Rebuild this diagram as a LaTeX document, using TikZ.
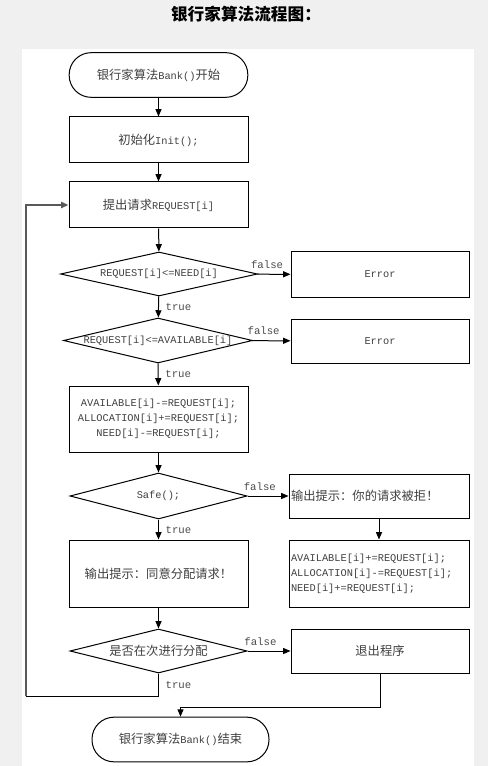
\documentclass[tikz,border=0pt]{standalone}
\usepackage{fontspec}
\setmainfont{Liberation Mono}
\newfontfamily\cjk{Noto Sans CJK SC}[Scale=1.19]
\usetikzlibrary{shapes.geometric,arrows.meta}

\tikzset{every picture/.style={line width=0.75pt}}
\tikzset{
  box/.style={draw, rectangle, minimum width=134.25pt, minimum height=34.5pt, inner sep=1pt, align=center, text=black!75},
  leftbox/.style={box, text width=132pt, align=left},
  term/.style={draw, rectangle, rounded corners=16.5pt, minimum width=134pt, minimum height=33.5pt, inner sep=1pt, text=black!75},
  decide/.style={draw, diamond, inner sep=0pt, text=black!75},
  flow/.style={-{Triangle[length=5.5pt,width=4.5pt]}},
  lbl/.style={font=\fontsize{8}{9}\selectfont, text=black!70, inner sep=1pt}
}
\newcommand{\zh}[1]{{\cjk #1}}
\newcommand{\nowidth}[1]{\makebox[0pt]{#1}}

\begin{document}
\begin{tikzpicture}[x=0.75pt,y=0.75pt,yscale=-1.0,xscale=1.0,font=\fontsize{7.75}{11.25}\selectfont]
    \useasboundingbox (0,0) rectangle (488,766);
    \fill [gray!12] (0,0) rectangle (488,766);
    \fill [white] (22,49) rectangle (474,766);
    
    % Title
    \node (title) at (246,14) {\cjk\fontsize{10.5}{12}\selectfont\bfseries 银行家算法流程图：};
    
    % Text Node
    \node [term] (start) at (158.5,75) {\zh{银行家算法}Bank()\zh{开始}};
    % Text Node
    \node [box] (init) at (158.5,140) {\zh{初始化}Init();};
    % Text Node
    \node [box] (request) at (158.5,205) {\zh{提出请求}REQUEST[i]};
    % Text Node
    \node [decide, minimum width=147.75pt, minimum height=33pt] (needchk) at (159,274) {\nowidth{REQUEST[i]<=NEED[i]}};
    % Text Node
    \node [box, minimum width=133.5pt, minimum height=33.75pt] (error1) at (380,274.5) {Error};
    % Text Node
    \node [decide, minimum width=141.75pt, minimum height=33.75pt] (availchk) at (158,340.5) {\nowidth{REQUEST[i]<=AVAILABLE[i]}};
    % Text Node
    \node [box, minimum width=133.5pt, minimum height=33pt] (error2) at (380,341) {Error};
    % Text Node
    \node [box, minimum height=49.5pt] (alloc) at (158.5,419) {AVAILABLE[i]-=REQUEST[i];\\ALLOCATION[i]+=REQUEST[i];\\NEED[i]-=REQUEST[i];};
    % Text Node
    \node [decide, minimum width=132.75pt, minimum height=34.5pt] (safe) at (158.5,496) {\nowidth{Safe();}};
    % Text Node
    \node [leftbox, minimum width=135pt, minimum height=33pt] (refuse) at (379,496) {\zh{输出提示：你的请求被拒！}};
    % Text Node
    \node [box, minimum height=50.25pt] (agree) at (158.5,573.5) {\zh{输出提示：同意分配请求！}};
    % Text Node
    \node [leftbox, minimum width=135pt, minimum height=50.25pt] (restore) at (379,573.5) {AVAILABLE[i]+=REQUEST[i];\\ALLOCATION[i]-=REQUEST[i];\\NEED[i]+=REQUEST[i];};
    % Text Node
    \node [decide, minimum width=132.75pt, minimum height=33pt] (again) at (158.5,651) {\nowidth{\zh{是否在次进行分配}}};
    % Text Node
    \node [box, minimum width=133.5pt, minimum height=33pt] (exit) at (380,651) {\zh{退出程序}};
    % Text Node
    \node [term, minimum width=132.75pt] (finish) at (180.5,739.5) {\zh{银行家算法}Bank()\zh{结束}};
    
    \coordinate (loop) at (26,696);
    
    % Connection
    \draw [flow] (start) -- (init);
    % Connection
    \draw [flow] (init) -- (request);
    % Connection
    \draw [flow] (request) -- (needchk);
    % Connection
    \draw [flow] (needchk) -- node [lbl, pos=0.3, above=3pt] {false} (error1);
    % Connection
    \draw [flow] (needchk) -- node [lbl, right=4pt] {true} (availchk);
    % Connection
    \draw [flow] (availchk) -- node [lbl, pos=0.3, above=3pt] {false} (error2);
    % Connection
    \draw [flow] (availchk) -- node [lbl, right=4pt] {true} (alloc);
    % Connection
    \draw [flow] (alloc) -- (safe);
    % Connection
    \draw [flow] (safe) -- node [lbl, pos=0.3, above=3pt] {false} (refuse);
    % Connection
    \draw [flow] (safe) -- node [lbl, right=4pt] {true} (agree);
    % Connection
    \draw [flow] (refuse) -- (restore);
    % Connection
    \draw [flow] (agree) -- (again);
    % Connection
    \draw [flow] (again) -- node [lbl, pos=0.3, above=3pt] {false} (exit);
    % Connection
    \draw (again.south) -- node [lbl, right=4pt] {true} (again.south |- loop) -- (loop);
    \draw [flow, line width=1.3pt, black!65] (loop) |- (request.west);
    % Connection
    \draw [flow] (exit.south) -- ++(0,34) -| (finish.north);
\end{tikzpicture}
\end{document}
